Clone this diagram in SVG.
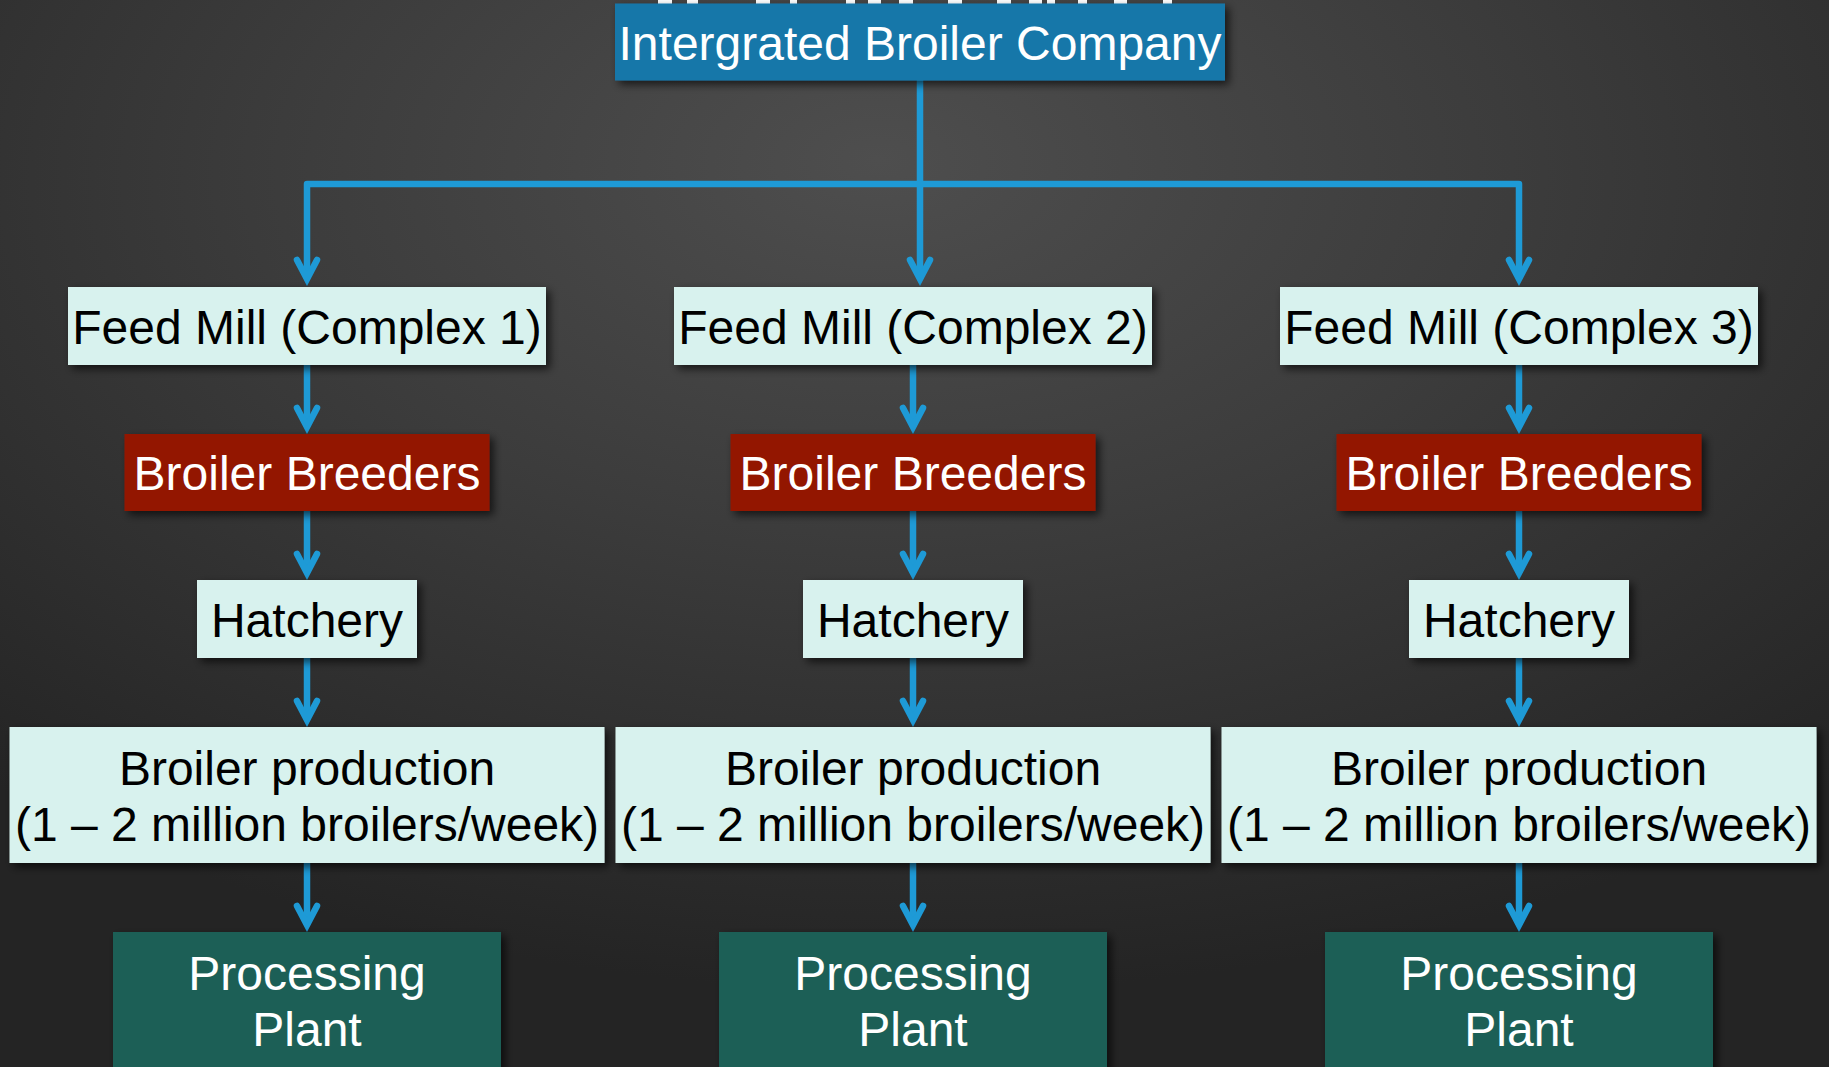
<svg xmlns="http://www.w3.org/2000/svg" width="1829" height="1067" viewBox="0 0 1829 1067">
  <defs>
    <radialGradient id="bg" cx="50%" cy="18%" r="75%" fx="48%" fy="15%">
      <stop offset="0" stop-color="#4e4e4e"/>
      <stop offset="0.45" stop-color="#3c3c3c"/>
      <stop offset="1" stop-color="#242424"/>
    </radialGradient>
    <filter id="shadow" x="-10%" y="-20%" width="125%" height="150%">
      <feDropShadow dx="4" dy="4" stdDeviation="4" flood-color="#000" flood-opacity="0.65"/>
    </filter>
    <marker id="chevron" markerUnits="userSpaceOnUse" viewBox="-26 -16 36 32" markerWidth="36" markerHeight="32" refX="0" refY="0" orient="auto" overflow="visible">
      <path d="M -19 -10 L 0 0 L -19 10" fill="none" stroke="#1e9ad6" stroke-width="6.5" stroke-linecap="round" stroke-linejoin="miter"/>
    </marker>
  </defs>
  <style>
    .lbl { font-family: "Liberation Sans", Arial, Helvetica, sans-serif; font-size: 48px; text-anchor: middle; }
    .dark { fill: #000000; }
    .light { fill: #ffffff; }
    .pale { fill: #d8f2ee; filter: url(#shadow); }
    .red { fill: #931300; filter: url(#shadow); }
    .teal { fill: #1a5e57; filter: url(#shadow); }
    .blue { fill: #1777a9; filter: url(#shadow); }
    .wire { fill: none; stroke: #1e9ad6; stroke-width: 6.5; stroke-linejoin: round; }
    .arrow { marker-end: url(#chevron); }
  </style>

  <!-- backdrop -->
  <rect x="0" y="0" width="1829" height="1067" fill="url(#bg)"/>

  <!-- lower ends of the slide heading showing above the company box -->
  <g id="heading-tails" fill="#ffffff">
    <rect x="658" y="0" width="14" height="5"/>
    <rect x="687" y="0" width="11" height="5"/>
    <rect x="756" y="0" width="14" height="5"/>
    <rect x="790" y="0" width="7" height="5"/>
    <rect x="846" y="0" width="9" height="5"/>
    <rect x="868" y="0" width="13" height="5"/>
    <rect x="899" y="0" width="14" height="5"/>
    <rect x="948" y="0" width="14" height="5"/>
    <rect x="997" y="0" width="14" height="5"/>
    <rect x="1029" y="0" width="13" height="5"/>
    <rect x="1047" y="0" width="8" height="5"/>
    <rect x="1078" y="0" width="9" height="5"/>
    <rect x="1114" y="0" width="13" height="5"/>
    <rect x="1163" y="0" width="9" height="5"/>
  </g>

  <!-- connectors -->
  <g id="connectors" class="wire">
    <path class="arrow" d="M920 80 V279"/>
    <path class="arrow" d="M920 184 H307 V279"/>
    <path class="arrow" d="M920 184 H1519 V279"/>

    <path class="arrow" d="M307 365 V427"/>
    <path class="arrow" d="M307 511 V573"/>
    <path class="arrow" d="M307 658 V720"/>
    <path class="arrow" d="M307 863 V925"/>

    <path class="arrow" d="M913 365 V427"/>
    <path class="arrow" d="M913 511 V573"/>
    <path class="arrow" d="M913 658 V720"/>
    <path class="arrow" d="M913 863 V925"/>

    <path class="arrow" d="M1519 365 V427"/>
    <path class="arrow" d="M1519 511 V573"/>
    <path class="arrow" d="M1519 658 V720"/>
    <path class="arrow" d="M1519 863 V925"/>
  </g>

  <!-- company -->
  <g id="company">
    <rect class="blue" x="615" y="3.5" width="610" height="77"/>
    <text class="lbl light" x="920" y="59.5">Intergrated Broiler Company</text>
  </g>

  <!-- complex 1 -->
  <g id="feedmill-1">
    <rect class="pale" x="68" y="287" width="478" height="78"/>
    <text class="lbl dark" x="307" y="344">Feed Mill (Complex 1)</text>
  </g>
  <g id="breeders-1">
    <rect class="red" x="124.5" y="434" width="365" height="77"/>
    <text class="lbl light" x="307" y="490">Broiler Breeders</text>
  </g>
  <g id="hatchery-1">
    <rect class="pale" x="197" y="580" width="220" height="78"/>
    <text class="lbl dark" x="307" y="637">Hatchery</text>
  </g>
  <g id="production-1">
    <rect class="pale" x="9.5" y="727" width="595" height="136"/>
    <text class="lbl dark" x="307" y="785">Broiler production</text>
    <text class="lbl dark" x="307" y="841">(1 – 2 million broilers/week)</text>
  </g>
  <g id="processing-1">
    <rect class="teal" x="113" y="932" width="388" height="150"/>
    <text class="lbl light" x="307" y="990">Processing</text>
    <text class="lbl light" x="307" y="1046">Plant</text>
  </g>

  <!-- complex 2 -->
  <g id="feedmill-2">
    <rect class="pale" x="674" y="287" width="478" height="78"/>
    <text class="lbl dark" x="913" y="344">Feed Mill (Complex 2)</text>
  </g>
  <g id="breeders-2">
    <rect class="red" x="730.5" y="434" width="365" height="77"/>
    <text class="lbl light" x="913" y="490">Broiler Breeders</text>
  </g>
  <g id="hatchery-2">
    <rect class="pale" x="803" y="580" width="220" height="78"/>
    <text class="lbl dark" x="913" y="637">Hatchery</text>
  </g>
  <g id="production-2">
    <rect class="pale" x="615.5" y="727" width="595" height="136"/>
    <text class="lbl dark" x="913" y="785">Broiler production</text>
    <text class="lbl dark" x="913" y="841">(1 – 2 million broilers/week)</text>
  </g>
  <g id="processing-2">
    <rect class="teal" x="719" y="932" width="388" height="150"/>
    <text class="lbl light" x="913" y="990">Processing</text>
    <text class="lbl light" x="913" y="1046">Plant</text>
  </g>

  <!-- complex 3 -->
  <g id="feedmill-3">
    <rect class="pale" x="1280" y="287" width="478" height="78"/>
    <text class="lbl dark" x="1519" y="344">Feed Mill (Complex 3)</text>
  </g>
  <g id="breeders-3">
    <rect class="red" x="1336.5" y="434" width="365" height="77"/>
    <text class="lbl light" x="1519" y="490">Broiler Breeders</text>
  </g>
  <g id="hatchery-3">
    <rect class="pale" x="1409" y="580" width="220" height="78"/>
    <text class="lbl dark" x="1519" y="637">Hatchery</text>
  </g>
  <g id="production-3">
    <rect class="pale" x="1221.5" y="727" width="595" height="136"/>
    <text class="lbl dark" x="1519" y="785">Broiler production</text>
    <text class="lbl dark" x="1519" y="841">(1 – 2 million broilers/week)</text>
  </g>
  <g id="processing-3">
    <rect class="teal" x="1325" y="932" width="388" height="150"/>
    <text class="lbl light" x="1519" y="990">Processing</text>
    <text class="lbl light" x="1519" y="1046">Plant</text>
  </g>
</svg>
